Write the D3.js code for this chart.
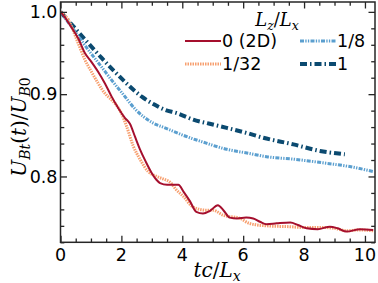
<!DOCTYPE html>
<html>
<head>
<meta charset="utf-8">
<script src="https://cdn.jsdelivr.net/npm/d3@7"></script>
<style>
  html, body { margin: 0; padding: 0; background: #fff; }
  svg { display: block; }
  text { font-family: "DejaVu Sans", sans-serif; }
  .math { font-family: "DejaVu Serif", serif; font-style: italic; }
</style>
</head>
<body>
<svg id="chart" width="378" height="283"></svg>
<script>
// ---- data ----
const t2D = [0, 0.15, 0.31, 0.58, 0.8, 1.02, 1.24, 1.46, 1.68, 1.9, 2.12, 2.28, 2.45, 2.61, 2.8, 3.0, 3.15, 3.27, 3.5, 3.87, 4.05, 4.25, 4.46, 4.68, 4.9, 5.17, 5.35, 5.56, 5.8, 6.1, 6.33, 6.55, 6.77, 7.1, 7.55, 7.8, 8.08, 8.45, 8.85, 9.1, 9.4, 9.84, 10.27];
const v2D = [1.0, 0.993, 0.984, 0.968, 0.950, 0.939, 0.927, 0.913, 0.897, 0.883, 0.871, 0.864, 0.848, 0.833, 0.818, 0.804, 0.796, 0.792, 0.790, 0.790, 0.781, 0.770, 0.757, 0.755, 0.758, 0.765, 0.759, 0.750, 0.749, 0.750, 0.749, 0.745, 0.742, 0.743, 0.744, 0.741, 0.737, 0.736, 0.739, 0.737, 0.733, 0.736, 0.735];

const t32 = [0, 0.26, 0.58, 0.8, 1.02, 1.24, 1.46, 1.68, 1.85, 2.01, 2.17, 2.39, 2.61, 2.88, 3.16, 3.37, 3.6, 3.8, 4.03, 4.35, 4.79, 5.01, 5.34, 5.9, 6.2, 6.77, 7.5, 8.0, 8.6, 9.0, 9.4, 9.8, 10.27];
const v32 = [1.0, 0.99, 0.962, 0.942, 0.927, 0.913, 0.901, 0.893, 0.886, 0.876, 0.861, 0.837, 0.821, 0.806, 0.800, 0.797, 0.793, 0.784, 0.776, 0.763, 0.759, 0.759, 0.753, 0.749, 0.743, 0.740, 0.739, 0.738, 0.738, 0.737, 0.734, 0.735, 0.734];

const t8 = [0, 0.48, 0.91, 1.35, 1.68, 2.01, 2.45, 2.99, 3.43, 3.7, 4.25, 4.58, 5.46, 6.2, 6.77, 7.65, 8.74, 9.5, 10.27];
const v8 = [1.0, 0.976, 0.954, 0.933, 0.917, 0.902, 0.882, 0.866, 0.859, 0.855, 0.847, 0.843, 0.833, 0.828, 0.824, 0.821, 0.816, 0.812, 0.806];

const t1 = [0, 0.48, 0.91, 1.35, 1.79, 2.23, 2.67, 3.1, 3.43, 3.82, 4.36, 4.9, 5.46, 6.1, 6.66, 7.65, 8.52, 9.34];
const v1 = [1.0, 0.980, 0.962, 0.944, 0.927, 0.911, 0.897, 0.887, 0.881, 0.877, 0.869, 0.864, 0.859, 0.853, 0.847, 0.839, 0.831, 0.827];

const xTicks = [0, 2, 4, 6, 8, 10];
const xTickLabels = ["0", "2", "4", "6", "8", "10"];
const yTicks = [0.8, 0.9, 1.0];
const yTickLabels = ["0.8", "0.9", "1.0"];
const seriesLabels = ["0 (2D)", "1/32", "1/8", "1"];

// ---- layout ----
const L = 60.5, R = 375, T = 2, B = 242.3;
const svg = d3.select("#chart");

const x = d3.scaleLinear().domain([0, 10.33]).range([L, R]);
const y = d3.scaleLinear().domain([0.72, 1.012]).range([B, T]);

const series = [
  { t: t2D, v: v2D, label: seriesLabels[0], color: "#a50f2d", width: 2, dash: null },
  { t: t32, v: v32, label: seriesLabels[1], color: "#f7a070", width: 3, dash: "1.5,1" },
  { t: t8, v: v8, label: seriesLabels[2], color: "#5b9fcf", width: 3, dash: "4,1.3,1.3,1.3,1.3,1.3" },
  { t: t1, v: v1, label: seriesLabels[3], color: "#0b4a70", width: 4, dash: "7,3,1.5,3" }
];

const line = d3.line().x(d => x(d[0])).y(d => y(d[1])).curve(d3.curveMonotoneX);

svg.append("defs").append("clipPath").attr("id", "clip")
  .append("rect").attr("x", L).attr("y", T).attr("width", R - L).attr("height", B - T);

const lines = svg.append("g").attr("clip-path", "url(#clip)");
[series[3], series[2], series[1], series[0]].forEach(s => {
  lines.append("path")
    .datum(s.t.map((tt, i) => [tt, s.v[i]]))
    .attr("fill", "none")
    .attr("stroke", s.color)
    .attr("stroke-width", s.width)
    .attr("stroke-dasharray", s.dash)
    .attr("d", line);
});

// ---- axes (ticks inward, all sides) ----
const axisColor = "#262626";
const major = 6.5, minor = 3.8;
function addAxis(makeAxis, transform, ticksMajor, ticksMinor) {
  const gMin = svg.append("g").attr("transform", transform)
    .call(makeAxis().tickValues(ticksMinor).tickSize(minor).tickFormat(""));
  const gMaj = svg.append("g").attr("transform", transform)
    .call(makeAxis().tickValues(ticksMajor).tickSize(major).tickFormat(""));
  [gMin, gMaj].forEach(g => {
    g.select(".domain").remove();
    g.selectAll(".tick line").attr("stroke", axisColor).attr("stroke-width", 1.3);
  });
}
const xMinor = d3.range(0, 10.3, 0.5).filter(v => Math.abs(v % 2) > 1e-6);
const yMinor = d3.range(0.72, 1.011, 0.02).map(v => +v.toFixed(2)).filter(v => Math.abs(Math.round(v * 10) - v * 10) > 1e-6);

addAxis(() => d3.axisTop(x), `translate(0,${B})`, xTicks, xMinor);
addAxis(() => d3.axisBottom(x), `translate(0,${T})`, xTicks, xMinor);
addAxis(() => d3.axisRight(y), `translate(${L},0)`, yTicks, yMinor);
addAxis(() => d3.axisLeft(y), `translate(${R},0)`, yTicks, yMinor);

// tick labels
svg.append("g").selectAll("text").data(xTicks).join("text")
  .attr("x", d => x(d)).attr("y", 261)
  .attr("text-anchor", "middle").attr("font-size", 17.5).attr("fill", "#000")
  .text((d, i) => xTickLabels[i]);
svg.append("g").selectAll("text").data(yTicks).join("text")
  .attr("x", L - 3).attr("y", d => y(d)).attr("dy", "0.36em")
  .attr("text-anchor", "end").attr("font-size", 17.5).attr("fill", "#000")
  .text((d, i) => yTickLabels[i]);

// frame
svg.append("rect").attr("x", L).attr("y", T).attr("width", R - L).attr("height", B - T)
  .attr("fill", "none").attr("stroke", axisColor).attr("stroke-width", 1.5);

// ---- axis titles (math-like) ----
const xl = svg.append("text").attr("class", "math").attr("x", 217).attr("y", 277)
  .attr("text-anchor", "middle").attr("font-size", 20);
xl.append("tspan").text("tc");
xl.append("tspan").attr("font-style", "normal").text("/");
xl.append("tspan").text("L");
xl.append("tspan").attr("font-size", 14).attr("dy", 4).text("x");

const yl = svg.append("text").attr("class", "math")
  .attr("transform", `translate(26,${127}) rotate(-90)`)
  .attr("text-anchor", "middle").attr("font-size", 20);
yl.append("tspan").text("U");
yl.append("tspan").attr("font-size", 14).attr("dy", 4).text("Bt");
yl.append("tspan").attr("dy", -4).attr("font-style", "normal").text("(");
yl.append("tspan").text("t");
yl.append("tspan").attr("font-style", "normal").text(")/");
yl.append("tspan").text("U");
yl.append("tspan").attr("font-size", 14).attr("dy", 4).text("B");
yl.append("tspan").attr("font-size", 14).attr("font-style", "normal").text("0");

// ---- legend ----
const lt = svg.append("text").attr("class", "math").attr("x", 277).attr("y", 26)
  .attr("text-anchor", "middle").attr("font-size", 18);
lt.append("tspan").text("L");
lt.append("tspan").attr("font-size", 12.5).attr("dy", 3.5).text("z");
lt.append("tspan").attr("dy", -3.5).attr("font-style", "normal").text("/");
lt.append("tspan").text("L");
lt.append("tspan").attr("font-size", 12.5).attr("dy", 3.5).text("x");

const legendPos = [
  { s: series[0], x: 185, y: 41 },
  { s: series[1], x: 185, y: 64 },
  { s: series[2], x: 300, y: 41 },
  { s: series[3], x: 300, y: 64 }
];
const lg = svg.append("g");
legendPos.forEach(p => {
  lg.append("line").attr("x1", p.x).attr("x2", p.x + 36).attr("y1", p.y).attr("y2", p.y)
    .attr("stroke", p.s.color).attr("stroke-width", p.s.width).attr("stroke-dasharray", p.s.dash);
  lg.append("text").attr("x", p.x + 37).attr("y", p.y).attr("dy", "0.36em")
    .attr("font-size", 17.5).attr("fill", "#000").text(p.s.label);
});
</script>
</body>
</html>
